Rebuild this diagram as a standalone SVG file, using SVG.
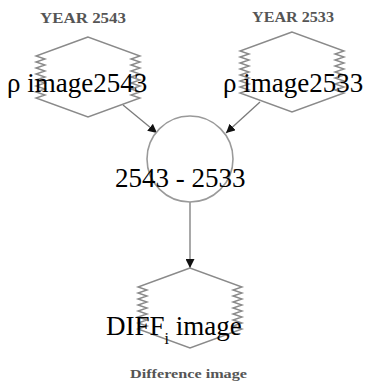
<svg xmlns="http://www.w3.org/2000/svg" width="370" height="385" viewBox="0 0 370 385">
  <style>
    .img-node { fill: #ffffff; stroke: #8a8a8a; stroke-width: 1.4; stroke-linejoin: miter; }
    .op-node { fill: #ffffff; stroke: #9a9a9a; stroke-width: 1.6; }
    .edge { fill: none; stroke: #7a7a7a; stroke-width: 1.3; marker-end: url(#arrow); }
    .label { font-family: "Liberation Serif", "Times New Roman", serif; font-size: 27px; fill: #000000; }
    .caption { font-family: "Liberation Serif", "Times New Roman", serif; font-weight: bold; fill: #555555; }
  </style>
  <defs>
    <!-- image symbol: pointed top and bottom, zig-zag sides -->
    <path id="imgShape" d="M0 0 L-52 19 l9 3 l-9 3 l9 3 l-9 3 l9 3 l-9 3 l9 3 l-9 3 l9 3 l-9 3 l9 3 l-9 3 l9 3 l-9 3 L0 80 L52 61 l-9 -3 l9 -3 l-9 -3 l9 -3 l-9 -3 l9 -3 l-9 -3 l9 -3 l-9 -3 l9 -3 l-9 -3 l9 -3 l-9 -3 l9 -3 Z"/>
    <marker id="arrow" viewBox="0 0 10 10" refX="10" refY="5" markerWidth="9" markerHeight="9" markerUnits="userSpaceOnUse" orient="auto">
      <path d="M0 0 L10 5 L0 10 Z" fill="#111111"/>
    </marker>
  </defs>

  <!-- connectors -->
  <g id="connectors">
    <line class="edge" x1="123" y1="105" x2="157" y2="133"/>
    <line class="edge" x1="260" y1="102" x2="226" y2="133"/>
    <line class="edge" x1="190" y1="202" x2="190" y2="268"/>
  </g>

  <g id="image2543">
    <text class="caption" x="40" y="23" font-size="14" textLength="86" lengthAdjust="spacingAndGlyphs">YEAR 2543</text>
    <use href="#imgShape" class="img-node" transform="translate(88,37)"/>
    <text class="label" x="7" y="92">ρ image2543</text>
  </g>

  <g id="image2533">
    <text class="caption" x="252" y="22" font-size="14" textLength="82" lengthAdjust="spacingAndGlyphs">YEAR 2533</text>
    <use href="#imgShape" class="img-node" transform="translate(292,32)"/>
    <text class="label" x="223" y="92">ρ image2533</text>
  </g>

  <g id="difference-op">
    <circle class="op-node" cx="190" cy="159" r="43"/>
    <text class="label" x="115" y="187">2543 - 2533</text>
  </g>

  <g id="difference-image">
    <use href="#imgShape" class="img-node" transform="translate(190,268)"/>
    <text class="label" x="106" y="335">DIFF<tspan font-size="16" dy="9">i</tspan><tspan dy="-9"> image</tspan></text>
    <text class="caption" x="130" y="378" font-size="13" textLength="117" lengthAdjust="spacingAndGlyphs" fill="#444444">Difference image</text>
  </g>
</svg>
